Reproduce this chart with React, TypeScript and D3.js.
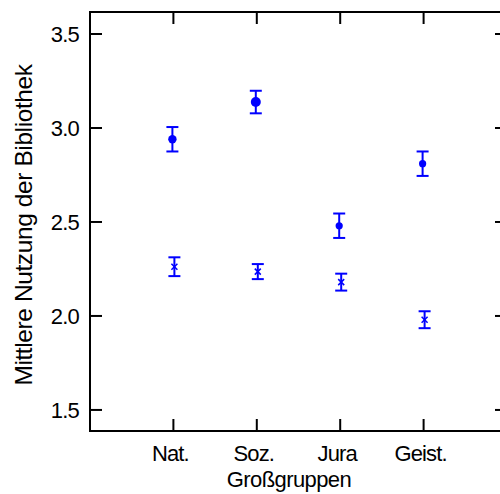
import React from "react";
import * as d3 from "d3";

const categories = ["Nat.", "Soz.", "Jura", "Geist."];
const circleMeans = [2.94, 3.138, 2.48, 2.81];
const circleErr = [0.065, 0.06, 0.065, 0.065];
const circleSize = [4.2, 5, 3.6, 3.6];
const crossMeans = [2.262, 2.236, 2.18, 1.98];
const crossErr = [0.05, 0.04, 0.045, 0.045];
const yTicks = [1.5, 2.0, 2.5, 3.0, 3.5];

const W = 500;
const H = 494;
const left = 90;
const top = 12;
const bottom = 431;
const right = 507;
const blue = "#0000ff";

export default function App() {
  const x = d3.scaleLinear().domain([0, 5]).range([left, right]);
  const y = d3.scaleLinear().domain([1.388, 3.617]).range([bottom, top]);
  const font = "'Liberation Sans', Arial, sans-serif";
  const tickLen = 12;

  return (
    <svg
      width={W}
      height={H}
      style={{ position: "absolute", left: 0, top: 0, background: "#fff" }}
      fontFamily={font}
    >
      <rect x={0} y={0} width={W} height={H} fill="#fff" />
      <rect
        x={left}
        y={top}
        width={right - left}
        height={bottom - top}
        fill="none"
        stroke="#000"
        strokeWidth={2}
      />
      {yTicks.map((t) => (
        <g key={t}>
          <line x1={left} x2={left + tickLen} y1={y(t)} y2={y(t)} stroke="#000" strokeWidth={2} />
          <line x1={right} x2={right - tickLen} y1={y(t)} y2={y(t)} stroke="#000" strokeWidth={2} />
          <text
            x={79}
            y={y(t)}
            dy="0.36em"
            textAnchor="end"
            fontSize={22}
            letterSpacing={-0.8}
            fill="#000"
          >
            {t.toFixed(1)}
          </text>
        </g>
      ))}
      {categories.map((c, i) => (
        <g key={c}>
          <line x1={x(i + 1)} x2={x(i + 1)} y1={bottom} y2={bottom - tickLen} stroke="#000" strokeWidth={2} />
          <line x1={x(i + 1)} x2={x(i + 1)} y1={top} y2={top + tickLen} stroke="#000" strokeWidth={2} />
          <text
            x={x(i + 1) - 3}
            y={461}
            textAnchor="middle"
            fontSize={22}
            letterSpacing={-0.9}
            fill="#000"
          >
            {c}
          </text>
        </g>
      ))}
      <text x={289} y={487} textAnchor="middle" fontSize={22} letterSpacing={-0.6} fill="#000">
        Großgruppen
      </text>
      <text
        transform={`translate(32, 225) rotate(-90)`}
        textAnchor="middle"
        fontSize={24.5}
        letterSpacing={-0.4}
        fill="#000"
      >
        Mittlere Nutzung der Bibliothek
      </text>
      {circleMeans.map((m, i) => {
        const cx = x(i + 1) - 1;
        const e = circleErr[i];
        return (
          <g key={"c" + i} stroke={blue} strokeWidth={2}>
            <line x1={cx} x2={cx} y1={y(m + e)} y2={y(m - e)} />
            <line x1={cx - 6} x2={cx + 6} y1={y(m + e)} y2={y(m + e)} />
            <line x1={cx - 6} x2={cx + 6} y1={y(m - e)} y2={y(m - e)} />
            <circle cx={cx} cy={y(m)} r={circleSize[i]} fill={blue} stroke="none" />
          </g>
        );
      })}
      {crossMeans.map((m, i) => {
        const cx = x(i + 1) + 1;
        const e = crossErr[i];
        const s = 3;
        return (
          <g key={"x" + i} stroke={blue} strokeWidth={2}>
            <line x1={cx} x2={cx} y1={y(m + e)} y2={y(m - e)} />
            <line x1={cx - 6} x2={cx + 6} y1={y(m + e)} y2={y(m + e)} />
            <line x1={cx - 6} x2={cx + 6} y1={y(m - e)} y2={y(m - e)} />
            <line x1={cx - s} x2={cx + s} y1={y(m) - s} y2={y(m) + s} strokeWidth={1.5} />
            <line x1={cx - s} x2={cx + s} y1={y(m) + s} y2={y(m) - s} strokeWidth={1.5} />
          </g>
        );
      })}
    </svg>
  );
}
